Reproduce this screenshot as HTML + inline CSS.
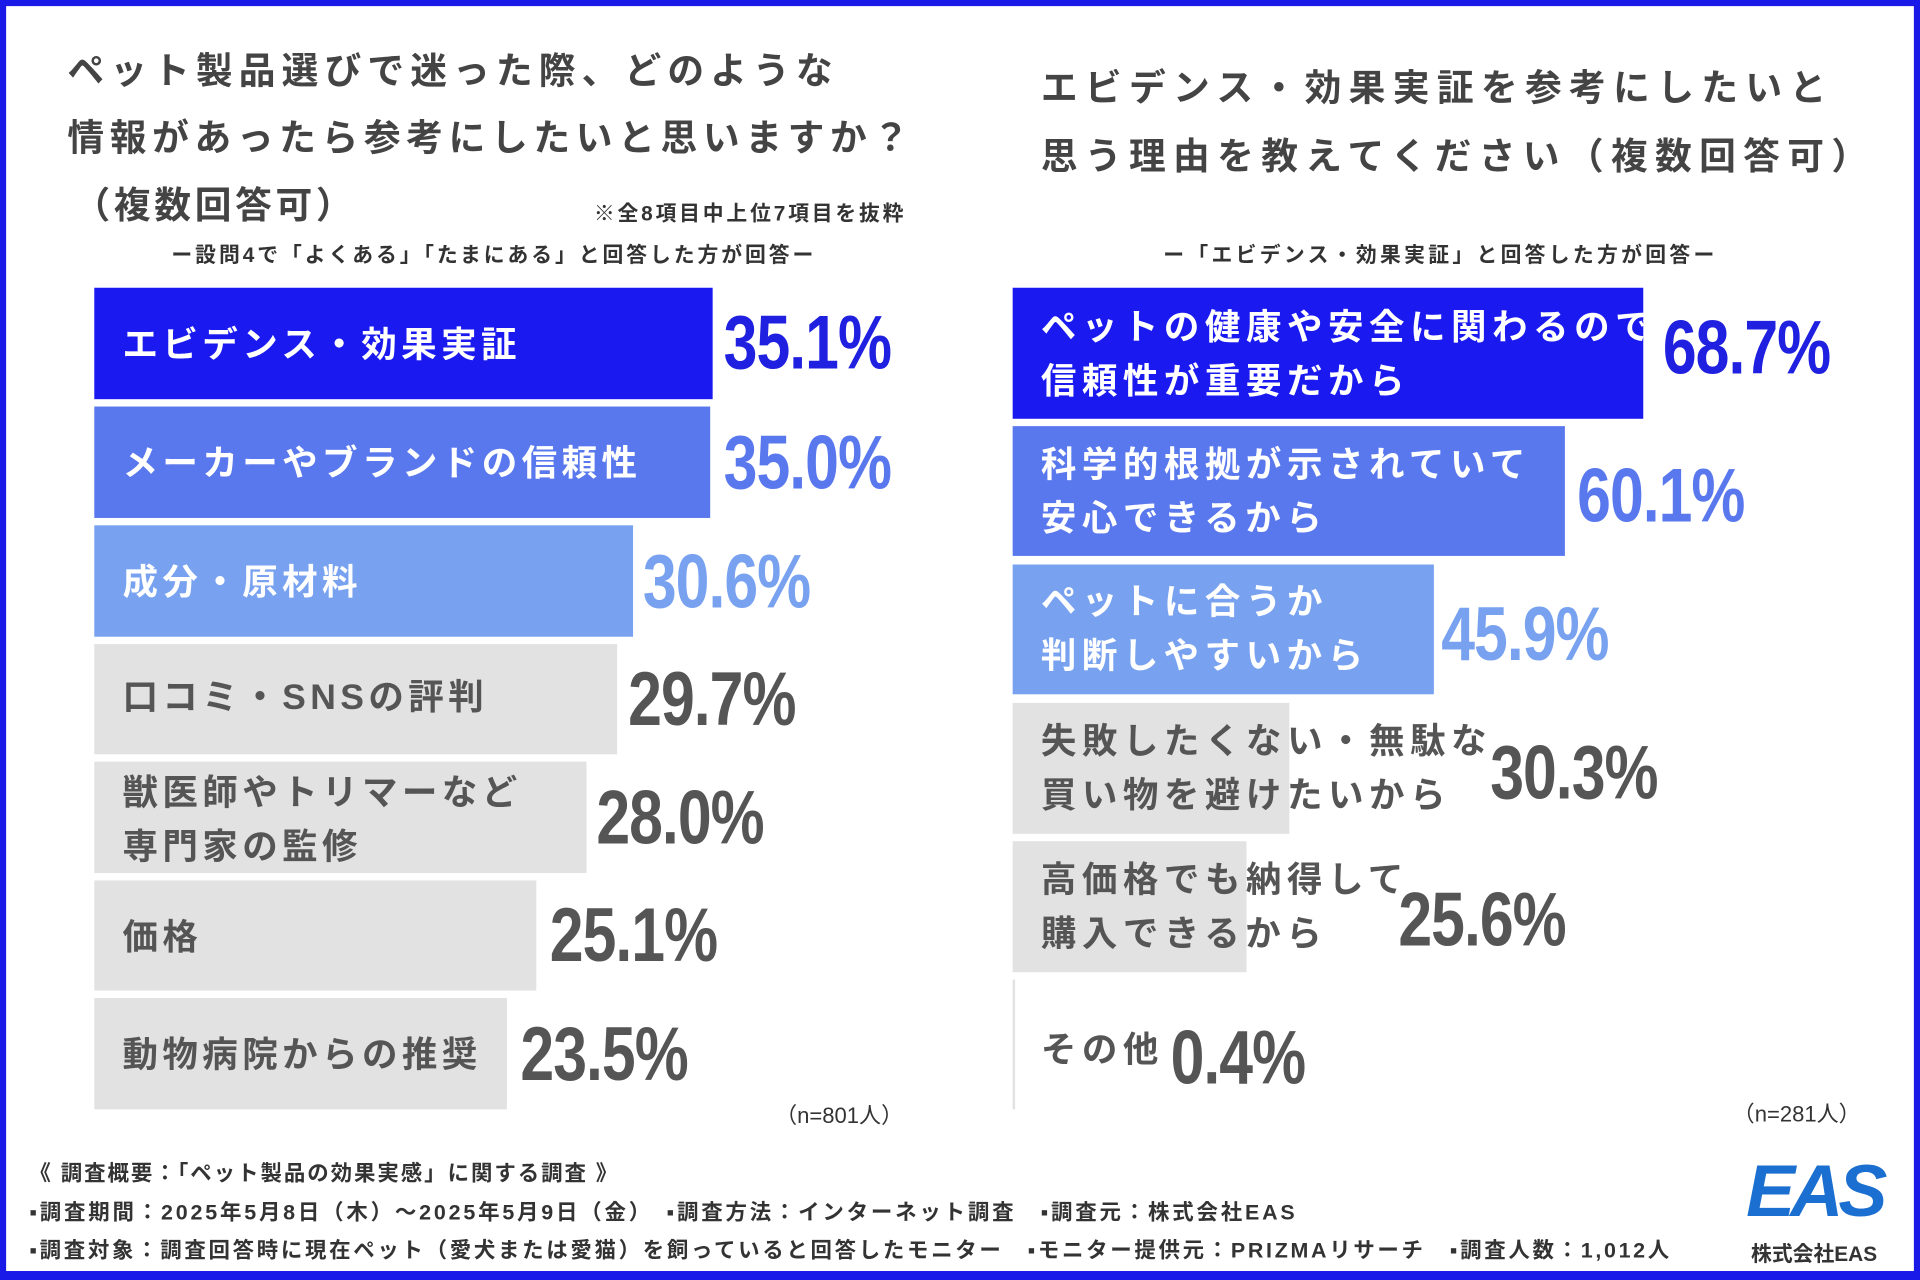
<!DOCTYPE html>
<html><head><meta charset="utf-8"><style>
html,body{margin:0;padding:0;background:#1a1ae8;}
#wrap{width:1920px;height:1280px;overflow:hidden;position:relative;}
#c{position:absolute;left:0;top:0;width:1568px;height:1045px;transform:scale(1.22449);transform-origin:0 0;background:#1a1ae8;}
#in{position:absolute;left:5px;top:5px;width:1558px;height:1033px;background:#fff;}
.t{position:absolute;font-family:"Liberation Sans","Noto Sans CJK JP",sans-serif;font-weight:bold;color:#444;white-space:nowrap;}
.bar{position:absolute;}
.v{position:absolute;font-family:"Liberation Sans",sans-serif;font-weight:bold;font-size:62px;white-space:nowrap;letter-spacing:-1px;transform:scaleX(0.8);transform-origin:0 0;}
.lb{position:absolute;font-family:"Liberation Sans","Noto Sans CJK JP",sans-serif;font-weight:bold;font-size:29px;line-height:44px;white-space:nowrap;letter-spacing:3.6px;}
.r{letter-spacing:4.5px;}
</style></head><body><div id="wrap"><div id="c"><div id="in"></div>
<div class="t" style="left:55px;top:33px;font-size:30px;letter-spacing:5px">ペット製品選びで迷った際、どのような</div>
<div class="t" style="left:55px;top:88px;font-size:30px;letter-spacing:4.6px">情報があったら参考にしたいと思いますか？</div>
<div class="t" style="left:60px;top:143px;font-size:30px;letter-spacing:3px">（複数回答可）</div>
<div class="t" style="left:485px;top:160px;font-size:17px;color:#333;letter-spacing:2.3px">※全8項目中上位7項目を抜粋</div>
<div class="t" style="left:140px;top:194px;font-size:17px;color:#333;letter-spacing:2.4px">ー設問4で「よくある」「たまにある」と回答した方が回答ー</div>

<div class="t" style="left:850px;top:47px;font-size:30px;letter-spacing:6px">エビデンス・効果実証を参考にしたいと</div>
<div class="t" style="left:850px;top:103px;font-size:30px;letter-spacing:6px">思う理由を教えてください（複数回答可）</div>
<div class="t" style="left:950px;top:194px;font-size:17px;color:#333;letter-spacing:2.7px">ー「エビデンス・効果実証」と回答した方が回答ー</div>

<div class="bar" style="left:77px;top:235px;width:505px;height:91px;background:#1a1af0"></div>
<div class="bar" style="left:77px;top:332px;width:503px;height:91px;background:#5a78ee"></div>
<div class="bar" style="left:77px;top:429px;width:440px;height:91px;background:#78a2f0"></div>
<div class="bar" style="left:77px;top:526px;width:427px;height:90px;background:#e2e2e2"></div>
<div class="bar" style="left:77px;top:622px;width:402px;height:91px;background:#e2e2e2"></div>
<div class="bar" style="left:77px;top:719px;width:361px;height:90px;background:#e2e2e2"></div>
<div class="bar" style="left:77px;top:815px;width:337px;height:91px;background:#e2e2e2"></div>
<div class="lb" style="left:100px;top:260px;color:#fff">エビデンス・効果実証</div>
<div class="lb" style="left:100px;top:357px;color:#fff">メーカーやブランドの信頼性</div>
<div class="lb" style="left:100px;top:454px;color:#fff">成分・原材料</div>
<div class="lb" style="left:100px;top:548px;color:#555">口コミ・SNSの評判</div>
<div class="lb" style="left:100px;top:626px;color:#555">獣医師やトリマーなど<br>専門家の監修</div>
<div class="lb" style="left:100px;top:744px;color:#555">価格</div>
<div class="lb" style="left:100px;top:840px;color:#555">動物病院からの推奨</div>
<div class="v" style="left:591px;top:245px;color:#2020e0">35.1%</div>
<div class="v" style="left:591px;top:343px;color:#5a78ee">35.0%</div>
<div class="v" style="left:525px;top:440px;color:#78a2f0">30.6%</div>
<div class="v" style="left:513px;top:536px;color:#555">29.7%</div>
<div class="v" style="left:487px;top:633px;color:#555">28.0%</div>
<div class="v" style="left:449px;top:729px;color:#555">25.1%</div>
<div class="v" style="left:425px;top:826px;color:#555">23.5%</div>
<div class="t" style="left:633px;top:897px;font-size:18px;color:#333;font-weight:normal">（n=801人）</div>

<div class="bar" style="left:827px;top:235px;width:515px;height:107px;background:#1a1af0"></div>
<div class="bar" style="left:827px;top:348px;width:451px;height:106px;background:#5a78ee"></div>
<div class="bar" style="left:827px;top:461px;width:344px;height:106px;background:#78a2f0"></div>
<div class="bar" style="left:827px;top:574px;width:226px;height:107px;background:#e2e2e2"></div>
<div class="bar" style="left:827px;top:687px;width:191px;height:107px;background:#e2e2e2"></div>
<div class="bar" style="left:827px;top:800px;width:2px;height:106px;background:#e2e2e2"></div>
<div class="lb r" style="left:850px;top:246px;color:#fff">ペットの健康や安全に関わるので<br>信頼性が重要だから</div>
<div class="lb r" style="left:850px;top:358px;color:#fff">科学的根拠が示されていて<br>安心できるから</div>
<div class="lb r" style="left:850px;top:470px;color:#fff">ペットに合うか<br>判断しやすいから</div>
<div class="lb r" style="left:850px;top:584px;color:#555">失敗したくない・無駄な<br>買い物を避けたいから</div>
<div class="lb r" style="left:850px;top:697px;color:#555">高価格でも納得して<br>購入できるから</div>
<div class="lb r" style="left:850px;top:836px;color:#555">その他</div>
<div class="v" style="left:1358px;top:249px;color:#2020e0">68.7%</div>
<div class="v" style="left:1288px;top:370px;color:#5a78ee">60.1%</div>
<div class="v" style="left:1177px;top:483px;color:#78a2f0">45.9%</div>
<div class="v" style="left:1217px;top:596px;color:#555">30.3%</div>
<div class="v" style="left:1142px;top:716px;color:#555">25.6%</div>
<div class="v" style="left:956px;top:829px;color:#555">0.4%</div>
<div class="t" style="left:1415px;top:896px;font-size:18px;color:#333;font-weight:normal">（n=281人）</div>

<div class="t" style="left:24px;top:945px;font-size:17.5px;color:#333;letter-spacing:1.6px">《 調査概要：「ペット製品の効果実感」に関する調査 》</div>
<div class="t" style="left:24px;top:977px;font-size:17.5px;color:#333;letter-spacing:2.3px">▪調査期間：2025年5月8日（木）～2025年5月9日（金）　▪調査方法：インターネット調査　▪調査元：株式会社EAS</div>
<div class="t" style="left:24px;top:1008px;font-size:17.5px;color:#333;letter-spacing:2.2px">▪調査対象：調査回答時に現在ペット（愛犬または愛猫）を飼っていると回答したモニター　▪モニター提供元：PRIZMAリサーチ　▪調査人数：1,012人</div>
<div class="t" style="left:1426px;top:938px;font-size:60px;color:#1a6fd0;font-style:italic;letter-spacing:-4px">EAS</div>
<div class="t" style="left:1430px;top:1010px;font-size:17px;color:#333">株式会社EAS</div>
</div></div></body></html>
